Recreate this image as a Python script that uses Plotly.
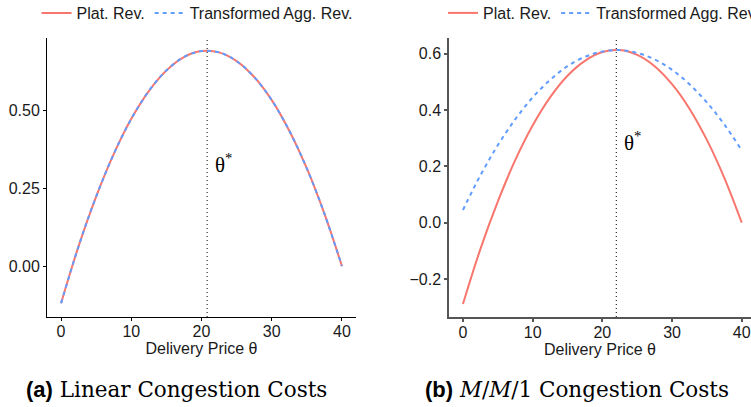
import plotly.graph_objects as go

# ---------------- data ----------------
theta = [0, 2.5, 5, 7.5, 10, 12.5, 15, 17.5, 20, 22.5, 25, 27.5, 30, 32.5, 35, 37.5, 40]

# (a) Linear congestion costs
lin_plat_rev = [-0.119, 0.064, 0.223, 0.359, 0.472, 0.561, 0.627, 0.670, 0.689,
                0.685, 0.657, 0.606, 0.532, 0.434, 0.313, 0.168, 0.0]
lin_agg_rev = [-0.119, 0.064, 0.223, 0.359, 0.472, 0.561, 0.627, 0.670, 0.689,
               0.685, 0.657, 0.606, 0.532, 0.434, 0.313, 0.168, 0.0]
lin_theta_star = 20.8

# (b) M/M/1 congestion costs
mm1_plat_rev = [-0.289, -0.094, 0.075, 0.222, 0.345, 0.445, 0.522, 0.575, 0.606,
                0.613, 0.596, 0.556, 0.492, 0.405, 0.294, 0.159, 0.0]
mm1_agg_rev = [0.045, 0.168, 0.275, 0.367, 0.445, 0.507, 0.556, 0.589, 0.608,
               0.613, 0.603, 0.580, 0.543, 0.492, 0.427, 0.349, 0.257]
mm1_theta_star = 22.0

x_ticks = [0, 10, 20, 30, 40]
lin_y_ticks = [0.0, 0.25, 0.5]
lin_y_labels = ["0.00", "0.25", "0.50"]
mm1_y_ticks = [-0.2, 0.0, 0.2, 0.4, 0.6]
mm1_y_labels = ["\u22120.2", "0.0", "0.2", "0.4", "0.6"]

series_names = ["Plat. Rev.", "Transformed Agg. Rev."]
captions = ["Linear Congestion Costs", "<i>M</i>/<i>M</i>/1 Congestion Costs"]
caption_tags = ["(a)", "(b)"]
x_title = "Delivery Price \u03b8"

# ---------------- styling ----------------
RED = "#F8766D"
BLUE = "#619CFF"
SANS = "Liberation Sans, Arial, sans-serif"
SERIF = "DejaVu Serif, serif"
TXT = "#1a1a1a"
W, H = 751, 407
ML, MR, MT, MB = 0, 0, 38, 90
PH = H - MT - MB

fig = go.Figure()

panels = [
    dict(x="x", y="y", plat=lin_plat_rev, agg=lin_agg_rev, legend="legend"),
    dict(x="x2", y="y2", plat=mm1_plat_rev, agg=mm1_agg_rev, legend="legend2"),
]
for p in panels:
    fig.add_trace(go.Scatter(x=theta, y=p["plat"], mode="lines", name=series_names[0],
                             line=dict(color=RED, width=2, shape="spline"),
                             xaxis=p["x"], yaxis=p["y"], legend=p["legend"]))
    fig.add_trace(go.Scatter(x=theta, y=p["agg"], mode="lines", name=series_names[1],
                             line=dict(color=BLUE, width=2, dash="4px,4px", shape="spline"),
                             xaxis=p["x"], yaxis=p["y"], legend=p["legend"]))

def axis_style(color, width):
    return dict(showgrid=False, zeroline=False, showline=True, linecolor=color,
                linewidth=width, ticks="outside", ticklen=3, tickcolor=color,
                tickwidth=width, tickfont=dict(family=SANS, size=16, color=TXT))

xtitle = dict(text=x_title, font=dict(family=SANS, size=16, color=TXT), standoff=0)

fig.update_layout(
    width=W, height=H,
    margin=dict(l=ML, r=MR, t=MT, b=MB, autoexpand=False),
    paper_bgcolor="white", plot_bgcolor="white",
    xaxis=dict(domain=[47 / W, 356 / W], range=[-2, 42], tickvals=x_ticks,
               title=xtitle, ticklabelstandoff=-3, **axis_style("black", 1)),
    yaxis=dict(range=[-0.163, 0.731], tickvals=lin_y_ticks, ticktext=lin_y_labels,
               **axis_style("black", 1)),
    xaxis2=dict(domain=[449 / W, 1.0], range=[-2, 41.33], tickvals=x_ticks, anchor="y2",
                title=xtitle, ticklabelstandoff=-3, **axis_style("#555555", 1.5)),
    yaxis2=dict(range=[-0.335, 0.656], tickvals=mm1_y_ticks, ticktext=mm1_y_labels,
                anchor="x2", **axis_style("#555555", 1.5)),
    legend=dict(orientation="h", x=197 / W, xanchor="center", y=1 + 25 / PH,
                yanchor="middle", font=dict(family=SANS, size=16, color=TXT),
                bgcolor="rgba(0,0,0,0)"),
    legend2=dict(orientation="h", x=443 / W, xanchor="left", y=1 + 25 / PH,
                 yanchor="middle", font=dict(family=SANS, size=16, color=TXT),
                 bgcolor="rgba(0,0,0,0)"),
)

# theta* dotted lines and labels
for xr, ts, ylab in [("x", lin_theta_star, 0.33), ("x2", mm1_theta_star, 0.29)]:
    yr = "y" if xr == "x" else "y2"
    fig.add_shape(type="line", xref=xr, yref=yr + " domain", x0=ts, x1=ts, y0=0, y1=1,
                  line=dict(color="black", width=1, dash="1px,3px"))
    fig.add_annotation(xref=xr, yref=yr, x=ts + 0.8, y=ylab, text="\u03b8<sup>*</sup>",
                       showarrow=False, xanchor="left", yanchor="middle",
                       font=dict(family="Liberation Serif, serif", size=21, color="black"))

# sub-figure captions
for tag, cap, cx in zip(caption_tags, captions, [176.5 / W, 577 / W]):
    fig.add_annotation(
        xref="paper", yref="paper", x=cx, y=(317 - 389) / PH, xanchor="center", yanchor="middle",
        showarrow=False,
        text="<span style=\"font-family:'Liberation Sans';font-weight:bold;font-size:22px\">"
             + tag + "</span> " + cap,
        font=dict(family=SERIF, size=21.5, color="black"))

fig.write_html("out.html", config={"displayModeBar": False},
               post_script="document.body.style.margin='0px';")
